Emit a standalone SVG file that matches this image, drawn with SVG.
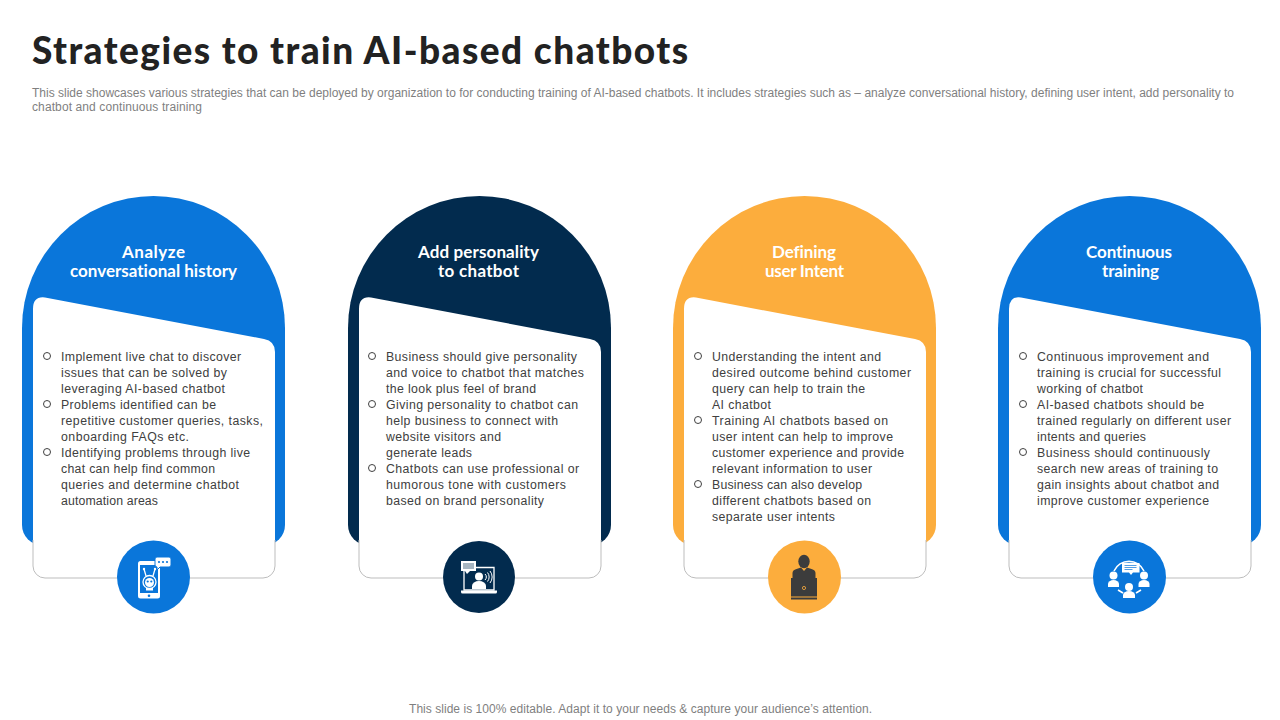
<svg xmlns="http://www.w3.org/2000/svg" width="1280" height="720" viewBox="0 0 1280 720">
<style>
.title{font-family:"Lato","Liberation Sans",sans-serif;font-weight:900;font-size:37px;fill:#222;font-variant-ligatures:none}
.sub{font-family:"Liberation Sans",Arial,sans-serif;font-size:12px;fill:#7f7f7f}
.h{font-family:"Lato","Liberation Sans",sans-serif;font-weight:700;font-size:17px;fill:#fff;text-anchor:middle;font-variant-ligatures:none}
.b{font-family:"Liberation Sans",Arial,sans-serif;font-size:12.300px;fill:#404040}
.dot{fill:none;stroke:#404040;stroke-width:1}
.card{fill:#fff}
.edge{fill:none;stroke:#bdbdbd;stroke-width:1}
.blue{fill:#0a76da}.navy{fill:#022b4e}.orange{fill:#fcad3d}
.w{fill:#fff}.wl{fill:none;stroke:#fff;stroke-width:1.300}
.d{fill:#3c3c3c}
</style>
<defs>
<path id="arch" d="M22 525V328A131.500 132 0 0 1 285 328V525a20 20 0 0 1-20 20H42a20 20 0 0 1-20-20Z"/>
<path id="cardShape" d="M33 309Q33 296 45 297.500L264 339Q275 341 275 352V566a12 12 0 0 1-12 12H45a12 12 0 0 1-12-12Z"/>
<path id="cardEdge" d="M33 540V566a12 12 0 0 0 12 12H263a12 12 0 0 0 12-12V540"/>
</defs>
<text class="title" x="32" y="64" textLength="656" lengthAdjust="spacing">Strategies to train AI-based chatbots</text>
<text class="sub" x="32" y="97" textLength="1202" lengthAdjust="spacing">This slide showcases various strategies that can be deployed by organization to for conducting training of AI-based chatbots. It includes strategies such as – analyze conversational history, defining user intent, add personality to</text>
<text class="sub" x="32" y="111" textLength="170" lengthAdjust="spacing">chatbot and continuous training</text>

<g id="node-analyze">
<use href="#arch" class="blue"/><use href="#cardShape" class="card"/><use href="#cardEdge" class="edge"/>
<text class="h" x="153.500" y="258" textLength="63" lengthAdjust="spacing">Analyze</text>
<text class="h" x="153.500" y="277" textLength="167" lengthAdjust="spacing">conversational history</text>
<circle class="dot" cx="47" cy="356" r="3.500"/><circle class="dot" cx="47" cy="404" r="3.500"/><circle class="dot" cx="47" cy="452" r="3.500"/>
<text class="b" x="61" y="361" textLength="180" lengthAdjust="spacing">Implement live chat to discover</text>
<text class="b" x="61" y="377" textLength="166" lengthAdjust="spacing">issues that can be solved by</text>
<text class="b" x="61" y="393" textLength="164" lengthAdjust="spacing">leveraging AI-based chatbot</text>
<text class="b" x="61" y="409" textLength="155" lengthAdjust="spacing">Problems identified can be</text>
<text class="b" x="61" y="425" textLength="202" lengthAdjust="spacing">repetitive customer queries, tasks,</text>
<text class="b" x="61" y="441" textLength="128" lengthAdjust="spacing">onboarding FAQs etc.</text>
<text class="b" x="61" y="457" textLength="189" lengthAdjust="spacing">Identifying problems through live</text>
<text class="b" x="61" y="473" textLength="154" lengthAdjust="spacing">chat can help find common</text>
<text class="b" x="61" y="489" textLength="178" lengthAdjust="spacing">queries and determine chatbot</text>
<text class="b" x="61" y="505" textLength="97" lengthAdjust="spacing">automation areas</text>
<circle class="blue" cx="153.500" cy="577" r="36.500"/>
<g id="icon-phone">
<rect class="w" x="138" y="561" width="22" height="37.500" rx="2.500"/>
<rect class="blue" x="140" y="565" width="18" height="28"/>
<circle class="blue" cx="149" cy="595.700" r="1.300"/>
<path class="w" d="M157 557h12a2 2 0 0 1 2 2v6a2 2 0 0 1-2 2h-9l-3 3v-3a2 2 0 0 1-2-2v-6a2 2 0 0 1 2-2Z" stroke="#0a76da" stroke-width="1"/>
<circle class="blue" cx="159" cy="562" r="1.100"/><circle class="blue" cx="163" cy="562" r="1.100"/><circle class="blue" cx="167" cy="562" r="1.100"/>
<circle class="wl" cx="149.500" cy="582" r="6.500"/>
<circle class="w" cx="149.500" cy="582.500" r="4.500"/>
<path class="wl" d="M146 576L144 569M153 576L155 569"/>
<circle class="w" cx="144" cy="569" r="1.200"/><circle class="w" cx="155" cy="569" r="1.200"/>
<circle class="blue" cx="147.700" cy="581.500" r="1.100"/><circle class="blue" cx="151.300" cy="581.500" r="1.100"/>
<path class="w" d="M146 588h7v2.500h-7Z"/>
</g>
</g>

<g id="node-personality">
<g transform="translate(326 0)"><use href="#arch" class="navy"/><use href="#cardShape" class="card"/><use href="#cardEdge" class="edge"/></g>
<text class="h" x="478.500" y="258" textLength="121" lengthAdjust="spacing">Add personality</text>
<text class="h" x="478.500" y="277" textLength="81" lengthAdjust="spacing">to chatbot</text>
<circle class="dot" cx="372" cy="356" r="3.500"/><circle class="dot" cx="372" cy="404" r="3.500"/><circle class="dot" cx="372" cy="468" r="3.500"/>
<text class="b" x="386" y="361" textLength="191" lengthAdjust="spacing">Business should give personality</text>
<text class="b" x="386" y="377" textLength="198" lengthAdjust="spacing">and voice to chatbot that matches</text>
<text class="b" x="386" y="393" textLength="150" lengthAdjust="spacing">the look plus feel of brand</text>
<text class="b" x="386" y="409" textLength="192" lengthAdjust="spacing">Giving personality to chatbot can</text>
<text class="b" x="386" y="425" textLength="172" lengthAdjust="spacing">help business to connect with</text>
<text class="b" x="386" y="441" textLength="115" lengthAdjust="spacing">website visitors and</text>
<text class="b" x="386" y="457" textLength="86" lengthAdjust="spacing">generate leads</text>
<text class="b" x="386" y="473" textLength="193" lengthAdjust="spacing">Chatbots can use professional or</text>
<text class="b" x="386" y="489" textLength="180" lengthAdjust="spacing">humorous tone with customers</text>
<text class="b" x="386" y="505" textLength="158" lengthAdjust="spacing">based on brand personality</text>
<circle class="navy" cx="479" cy="577" r="36"/>
<g id="icon-laptop">
<path class="wl" d="M464 571V590H494V567.500H476"/>
<path class="w" d="M461 590.500H497V592a1.500 1.500 0 0 1-1.500 1.500H462.500A1.500 1.500 0 0 1 461 592Z"/>
<rect class="w" x="461" y="561" width="15" height="10"/>
<path class="w" d="M465 571h5l-3 3Z"/>
<path style="stroke:#022b4e;stroke-width:.7" d="M463 564h11M463 566h11M463 568h11"/>
<circle class="w" cx="479" cy="576.500" r="4"/>
<path class="w" d="M472 589v-3a7 5 0 0 1 14 0v3Z"/>
<path class="wl" style="stroke-width:1" d="M485 574a4 4 0 0 1 0 6M487.500 572.500a7 7 0 0 1 0 9M490 571a9.500 9.500 0 0 1 0 12"/>
</g>
</g>

<g id="node-intent">
<g transform="translate(651 0)"><use href="#arch" class="orange"/><use href="#cardShape" class="card"/><use href="#cardEdge" class="edge"/></g>
<text class="h" x="804" y="258" textLength="64" lengthAdjust="spacing">Defining</text>
<text class="h" x="804.500" y="277" textLength="79" lengthAdjust="spacing">user Intent</text>
<circle class="dot" cx="698" cy="356" r="3.500"/><circle class="dot" cx="698" cy="420" r="3.500"/><circle class="dot" cx="698" cy="484" r="3.500"/>
<text class="b" x="712" y="361" textLength="169" lengthAdjust="spacing">Understanding the intent and</text>
<text class="b" x="712" y="377" textLength="199" lengthAdjust="spacing">desired outcome behind customer</text>
<text class="b" x="712" y="393" textLength="153" lengthAdjust="spacing">query can help to train the</text>
<text class="b" x="712" y="409" textLength="59" lengthAdjust="spacing">AI chatbot</text>
<text class="b" x="712" y="425" textLength="176" lengthAdjust="spacing">Training AI chatbots based on</text>
<text class="b" x="712" y="441" textLength="181" lengthAdjust="spacing">user intent can help to improve</text>
<text class="b" x="712" y="457" textLength="192" lengthAdjust="spacing">customer experience and provide</text>
<text class="b" x="712" y="473" textLength="160" lengthAdjust="spacing">relevant information to user</text>
<text class="b" x="712" y="489" textLength="150" lengthAdjust="spacing">Business can also develop</text>
<text class="b" x="712" y="505" textLength="159" lengthAdjust="spacing">different chatbots based on</text>
<text class="b" x="712" y="521" textLength="123" lengthAdjust="spacing">separate user intents</text>
<circle class="orange" cx="804.500" cy="577" r="36.500"/>
<g id="icon-person">
<ellipse class="d" cx="804" cy="561.500" rx="5.700" ry="6.700"/>
<path class="d" d="M792.500 578v-5q0-3 4-4l4.500-1.500 3 3.500 3-3.500 4.500 1.500q4 1 4 4v5Z"/>
<rect class="d" x="791" y="578" width="26" height="18.500"/>
<rect class="d" x="791" y="597.500" width="26" height="2"/>
<circle cx="804" cy="588" r="1.600" fill="none" stroke="#fcad3d" stroke-width=".8"/>
</g>
</g>

<g id="node-training">
<g transform="translate(976 0)"><use href="#arch" class="blue"/><use href="#cardShape" class="card"/><use href="#cardEdge" class="edge"/></g>
<text class="h" x="1129" y="258" textLength="86" lengthAdjust="spacing">Continuous</text>
<text class="h" x="1130.500" y="277" textLength="57" lengthAdjust="spacing">training</text>
<circle class="dot" cx="1023" cy="356" r="3.500"/><circle class="dot" cx="1023" cy="404" r="3.500"/><circle class="dot" cx="1023" cy="452" r="3.500"/>
<text class="b" x="1037" y="361" textLength="172" lengthAdjust="spacing">Continuous improvement and</text>
<text class="b" x="1037" y="377" textLength="184" lengthAdjust="spacing">training is crucial for successful</text>
<text class="b" x="1037" y="393" textLength="106" lengthAdjust="spacing">working of chatbot</text>
<text class="b" x="1037" y="409" textLength="167" lengthAdjust="spacing">AI-based chatbots should be</text>
<text class="b" x="1037" y="425" textLength="194" lengthAdjust="spacing">trained regularly on different user</text>
<text class="b" x="1037" y="441" textLength="109" lengthAdjust="spacing">intents and queries</text>
<text class="b" x="1037" y="457" textLength="173" lengthAdjust="spacing">Business should continuously</text>
<text class="b" x="1037" y="473" textLength="181" lengthAdjust="spacing">search new areas of training to</text>
<text class="b" x="1037" y="489" textLength="182" lengthAdjust="spacing">gain insights about chatbot and</text>
<text class="b" x="1037" y="505" textLength="172" lengthAdjust="spacing">improve customer experience</text>
<circle class="blue" cx="1129.500" cy="577" r="36.500"/>
<g id="icon-team">
<path class="wl" style="stroke-width:1.600" d="M1114 571a16.500 16.500 0 0 1 30 0M1118 590l5 3M1141 590l-5 3"/>
<path class="w" d="M1122 563h17.500v9.500h-6.500l-2 2.500-2-2.500h-7Z"/>
<path style="stroke:#0a76da;stroke-width:.7" d="M1124.500 565.500h12M1124.500 567.500h12M1124.500 569.500h8"/>
<circle class="w" cx="1113.500" cy="575.500" r="4"/><path class="w" d="M1108 587v-3a5.500 4 0 0 1 11 0v3Z"/>
<circle class="w" cx="1144" cy="575.500" r="4"/><path class="w" d="M1138.500 587v-3a5.500 4 0 0 1 11 0v3Z"/>
<circle class="w" cx="1129" cy="587" r="4"/><path class="w" d="M1123 598v-3a6 4 0 0 1 12 0v3Z"/>
</g>
</g>
<text class="sub" x="409" y="713" textLength="463" lengthAdjust="spacing">This slide is 100% editable. Adapt it to your needs &amp; capture your audience’s attention.</text>
</svg>
